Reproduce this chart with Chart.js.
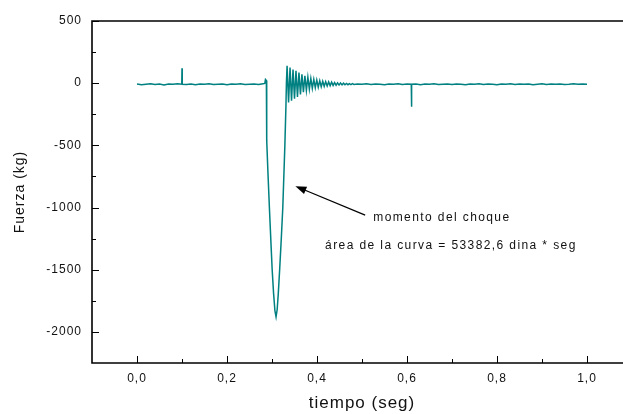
<!DOCTYPE html>
<html>
<head>
<meta charset="utf-8">
<script src="https://cdn.jsdelivr.net/npm/chart.js"></script>
<style>
  html, body { margin: 0; padding: 0; background: #fff; overflow: hidden; }
  #grafico { display: block; }
</style>
</head>
<body>
<canvas id="grafico" width="640" height="414"></canvas>
<script>
// Datos (tiempo en seg, fuerza en kg)
var tiempo = [
  0.00, 0.01, 0.02, 0.03, 0.04, 0.05, 0.06, 0.07, 0.08, 0.09,
  0.0995, 0.1000, 0.1005,
  0.11, 0.12, 0.13, 0.14, 0.15, 0.16, 0.17, 0.18, 0.19, 0.20,
  0.21, 0.22, 0.23, 0.24, 0.25, 0.26, 0.27, 0.28,
  // choque
  0.2840, 0.2855, 0.2875, 0.2880, 0.2885, 0.2910, 0.2942, 0.2975, 0.3004, 0.3035,
  0.3065, 0.3090, 0.3115, 0.3140, 0.3170, 0.3205, 0.3240, 0.3286, 0.3310, 0.3320,
  0.3335,
  // oscilacion
  0.3368, 0.3401, 0.3434, 0.3467, 0.3500, 0.3533, 0.3566, 0.3599, 0.3632, 0.3665,
  0.3698, 0.3731, 0.3764, 0.3797, 0.3830, 0.3863, 0.3896, 0.3929, 0.3962, 0.3995,
  0.4028, 0.4061, 0.4094, 0.4127, 0.4160, 0.4193, 0.4226, 0.4259, 0.4292, 0.4325,
  0.4358, 0.4391, 0.4424, 0.4457, 0.4490, 0.4523, 0.4556, 0.4589, 0.4622, 0.4655,
  0.4688, 0.4721, 0.4754, 0.4787, 0.4820,
  // despues
  0.49, 0.50, 0.51, 0.52, 0.53, 0.54, 0.55, 0.56, 0.57, 0.58, 0.59, 0.60,
  0.6095, 0.6100, 0.6105,
  0.62, 0.63, 0.64, 0.65, 0.66, 0.67, 0.68, 0.69, 0.70, 0.71, 0.72, 0.73, 0.74,
  0.75, 0.76, 0.77, 0.78, 0.79, 0.80, 0.81, 0.82, 0.83, 0.84, 0.85, 0.86, 0.87,
  0.88, 0.89, 0.90, 0.91, 0.92, 0.93, 0.94, 0.95, 0.96, 0.97, 0.98, 0.99, 1.00
];
var fuerza = [
  -6, -12, -8, -4, -10, -7, -14, -6, -9, -5,
  -8, 120, -8,
  -10, -6, -13, -7, -9, -4, -11, -8, -6, -12,
  -7, -9, -5, -10, -8, -6, -11, -4,
  -2, 30, 22, -250, -460, -720, -1000, -1270, -1500, -1690,
  -1830, -1880, -1820, -1690, -1500, -1260, -1000, -500, -180, 0,
  140,
  -155, 125, -140, 110, -125, 100, -110, 85, -90, 72,
  -72, 60, -58, 48, -48, 38, -42, 30, -36, 25,
  -32, 20, -28, 16, -25, 13, -22, 10, -20, 8,
  -18, 5, -16, 3, -15, 1, -14, 0, -13, -2,
  -12, -3, -11, -4, -10,
  -6, -9, -5, -11, -7, -8, -13, -6, -9, -4, -10, -7,
  -8, -190, -8,
  -6, -12, -7, -9, -5, -10, -8, -6, -11, -7, -9, -13, -6,
  -8, -4, -10, -7, -9, -12, -6, -8, -5, -11, -7, -9, -6,
  -13, -8, -5, -10, -7, -9, -6, -11, -8, -4, -9, -7, -8
];

var ticksX = [0, 0.2, 0.4, 0.6, 0.8, 1.0];
var ticksXMenores = [0.1, 0.3, 0.5, 0.7, 0.9];
var ticksY = [500, 0, -500, -1000, -1500, -2000];
var ticksYMenores = [250, -250, -750, -1250, -1750];

// anotacion (en unidades de los ejes)
var flechaDesde = [0.507, -1061];
var flechaHasta = [0.352, -828];
var textoMomento = 'momento del choque';
var posMomento = [0.525, -1109];
var textoArea = 'área de la curva = 53382,6 dina * seg';
var posArea = [0.418, -1334];

var fuente = 'Liberation Sans, Arial, sans-serif';

// marco, ticks hacia adentro y anotacion
var marco = {
  id: 'marco',
  beforeLayout: function(chart) { chart.ctx.letterSpacing = '1px'; },
  beforeDraw: function(chart) { chart.ctx.letterSpacing = '1px'; },
  afterDraw: function(chart) {
    var ctx = chart.ctx, a = chart.chartArea;
    var sx = chart.scales.x, sy = chart.scales.y;
    ctx.save();
    ctx.strokeStyle = '#000';
    ctx.lineWidth = 1.6;
    ctx.beginPath();
    ctx.moveTo(a.right, a.top);
    ctx.lineTo(a.left, a.top);
    ctx.lineTo(a.left, a.bottom);
    ctx.lineTo(a.right, a.bottom);
    ctx.stroke();

    ctx.lineWidth = 1;
    ctx.beginPath();
    ticksX.forEach(function(v) {
      var px = Math.round(sx.getPixelForValue(v)) + 0.5;
      ctx.moveTo(px, a.bottom); ctx.lineTo(px, a.bottom - 7);
    });
    ticksXMenores.forEach(function(v) {
      var px = Math.round(sx.getPixelForValue(v)) + 0.5;
      ctx.moveTo(px, a.bottom); ctx.lineTo(px, a.bottom - 4);
    });
    ticksY.forEach(function(v) {
      var py = Math.round(sy.getPixelForValue(v)) + 0.5;
      ctx.moveTo(a.left, py); ctx.lineTo(a.left + 7, py);
    });
    ticksYMenores.forEach(function(v) {
      var py = Math.round(sy.getPixelForValue(v)) + 0.5;
      ctx.moveTo(a.left, py); ctx.lineTo(a.left + 4, py);
    });
    ctx.stroke();

    // flecha
    var x0 = sx.getPixelForValue(flechaDesde[0]), y0 = sy.getPixelForValue(flechaDesde[1]);
    var x1 = sx.getPixelForValue(flechaHasta[0]), y1 = sy.getPixelForValue(flechaHasta[1]);
    var ang = Math.atan2(y1 - y0, x1 - x0);
    ctx.lineWidth = 1.2;
    ctx.beginPath();
    ctx.moveTo(x0, y0);
    ctx.lineTo(x1 - 8 * Math.cos(ang), y1 - 8 * Math.sin(ang));
    ctx.stroke();
    ctx.fillStyle = '#000';
    ctx.beginPath();
    ctx.moveTo(x1, y1);
    ctx.lineTo(x1 - 11 * Math.cos(ang) + 4 * Math.sin(ang), y1 - 11 * Math.sin(ang) - 4 * Math.cos(ang));
    ctx.lineTo(x1 - 11 * Math.cos(ang) - 4 * Math.sin(ang), y1 - 11 * Math.sin(ang) + 4 * Math.cos(ang));
    ctx.closePath();
    ctx.fill();

    // textos
    ctx.letterSpacing = '1.4px';
    ctx.font = '12px ' + fuente;
    ctx.fillStyle = '#111';
    ctx.textAlign = 'left';
    ctx.textBaseline = 'alphabetic';
    ctx.fillText(textoMomento, sx.getPixelForValue(posMomento[0]), sy.getPixelForValue(posMomento[1]));
    ctx.fillText(textoArea, sx.getPixelForValue(posArea[0]), sy.getPixelForValue(posArea[1]));
    ctx.restore();
  }
};

var puntos = tiempo.map(function(t, i) { return { x: t, y: fuerza[i] }; });

new Chart(document.getElementById('grafico'), {
  type: 'scatter',
  data: {
    datasets: [{
      data: puntos,
      showLine: true,
      borderColor: '#008080',
      borderWidth: 1.5,
      pointRadius: 0,
      tension: 0
    }]
  },
  options: {
    responsive: false,
    animation: false,
    layout: { padding: { top: 21, right: 8, left: 0, bottom: 0 } },
    plugins: {
      legend: { display: false },
      tooltip: { enabled: false }
    },
    scales: {
      x: {
        type: 'linear',
        min: -0.1,
        max: 1.1,
        grid: { display: false, drawTicks: false },
        border: { display: false },
        afterBuildTicks: function(s) { s.ticks = ticksX.map(function(v) { return { value: v }; }); },
        afterFit: function(s) { s.height = 51; },
        ticks: {
          padding: 8,
          color: '#111',
          maxRotation: 0,
          autoSkip: false,
          font: { family: fuente, size: 12 },
          callback: function(v) { return v.toFixed(1).replace('.', ','); }
        },
        title: {
          display: true,
          text: 'tiempo (seg)',
          color: '#111',
          font: { family: fuente, size: 17 },
          padding: { top: 0, bottom: 0 }
        }
      },
      y: {
        type: 'linear',
        min: -2250,
        max: 500,
        grid: { display: false, drawTicks: false },
        border: { display: false },
        afterBuildTicks: function(s) { s.ticks = ticksY.map(function(v) { return { value: v }; }); },
        afterFit: function(s) { s.width = 92; },
        ticks: {
          padding: 10,
          color: '#111',
          autoSkip: false,
          font: { family: fuente, size: 12 },
          callback: function(v) { return String(v); }
        },
        title: {
          display: true,
          text: 'Fuerza (kg)',
          color: '#111',
          font: { family: fuente, size: 14 },
          padding: { top: 12, bottom: 0 }
        }
      }
    }
  },
  plugins: [marco]
});
</script>
</body>
</html>
